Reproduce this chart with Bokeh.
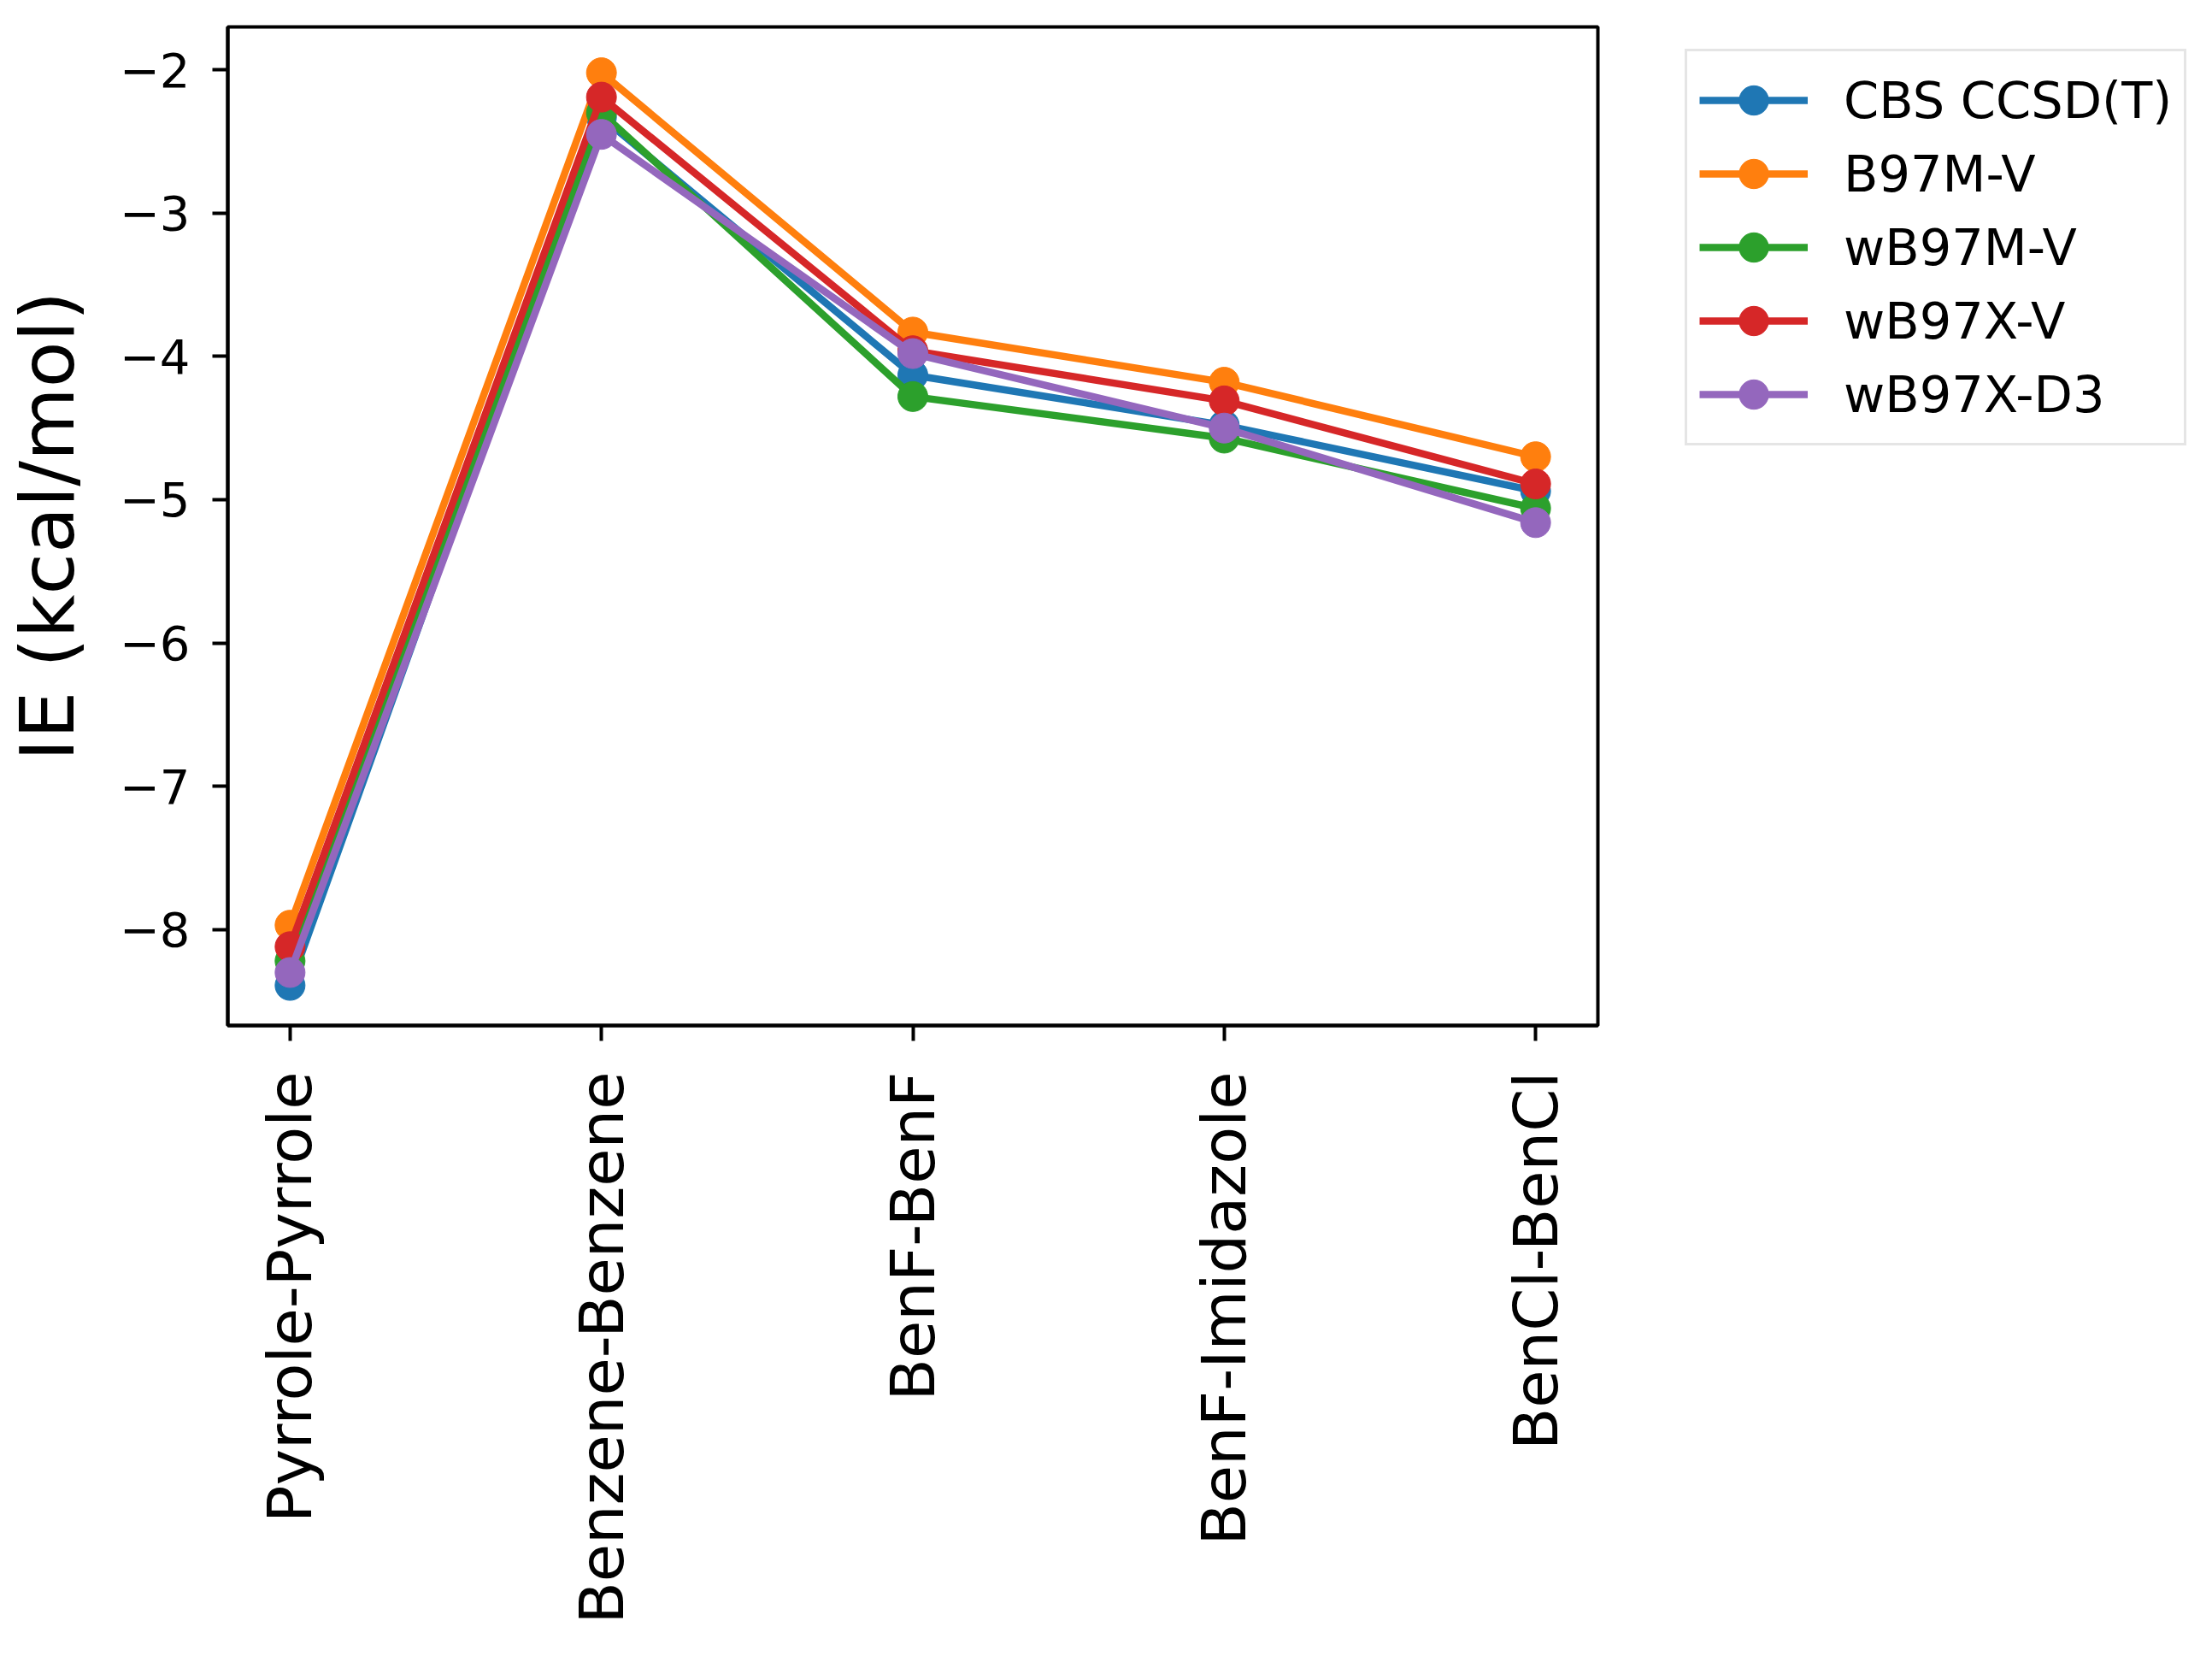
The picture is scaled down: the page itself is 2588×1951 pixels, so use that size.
import math
from bokeh.plotting import figure
from bokeh.models import Range1d, FixedTicker, Legend, LegendItem
from bokeh.embed import file_html
from bokeh.resources import INLINE

categories = ["Pyrrole-Pyrrole", "Benzene-Benzene", "BenF-BenF", "BenF-Imidazole", "BenCl-BenCl"]
series_names = ["CBS CCSD(T)", "B97M-V", "wB97M-V", "wB97X-V", "wB97X-D3"]
cbs_ccsdt = [-8.39, -2.33, -4.13, -4.48, -4.94]
b97m_v = [-7.97, -2.02, -3.83, -4.18, -4.70]
wb97m_v = [-8.22, -2.30, -4.28, -4.57, -5.06]
wb97x_v = [-8.12, -2.19, -3.96, -4.31, -4.89]
wb97x_d3 = [-8.30, -2.45, -3.98, -4.50, -5.16]
y_ticks = [-8, -7, -6, -5, -4, -3, -2]
y_label = "IE (kcal/mol)"

colors = ["#1f77b4", "#ff7f0e", "#2ca02c", "#d62728", "#9467bd"]
all_series = [cbs_ccsdt, b97m_v, wb97m_v, wb97x_v, wb97x_d3]
xs = list(range(len(categories)))

FONT = "DejaVu Sans"

p = figure(
    frame_width=1603, frame_height=1168,
    min_border_left=254, min_border_top=31, min_border_right=713, min_border_bottom=736,
    x_range=Range1d(-0.2, 4.2), y_range=Range1d(-8.67, -1.70),
    output_backend="svg", toolbar_location=None,
)
p.grid.visible = False
p.outline_line_color = "black"
p.outline_line_width = 4
p.background_fill_color = "white"
p.border_fill_color = "white"

for ax in (p.xaxis[0], p.yaxis[0]):
    ax.axis_line_color = "black"
    ax.axis_line_width = 4
    ax.major_tick_line_color = "black"
    ax.major_tick_line_width = 4
    ax.major_tick_out = 18
    ax.major_tick_in = 0
    ax.minor_tick_line_color = None
    ax.major_label_text_font = FONT
    ax.major_label_text_color = "black"

p.xaxis.ticker = FixedTicker(ticks=xs)
p.xaxis.major_label_overrides = {i: c for i, c in enumerate(categories)}
p.xaxis.major_label_orientation = math.pi / 2
p.xaxis.major_label_text_font_size = "72px"
p.xaxis.major_label_standoff = 36

p.yaxis.ticker = FixedTicker(ticks=y_ticks)
p.yaxis.major_label_overrides = {t: ("\u2212" + str(abs(t)) if t < 0 else str(t)) for t in y_ticks}
p.yaxis.major_label_text_font_size = "56px"
p.yaxis.major_label_standoff = 26
p.yaxis.axis_label = y_label
p.yaxis.axis_label_text_font = FONT
p.yaxis.axis_label_text_font_size = "88px"
p.yaxis.axis_label_text_font_style = "normal"
p.yaxis.axis_label_text_color = "black"
p.yaxis.axis_label_standoff = 30

items = []
for name, vals, col in zip(series_names, all_series, colors):
    r1 = p.line(xs, vals, line_color=col, line_width=8.5)
    r2 = p.scatter(xs, vals, marker="circle", size=35, fill_color=col, line_color=col, line_width=1)
    items.append(LegendItem(label=name, renderers=[r1, r2]))

legend = Legend(items=items)
legend.label_text_font = FONT
legend.label_text_font_size = "59px"
legend.label_text_color = "black"
legend.glyph_width = 127
legend.glyph_height = 86
legend.label_height = 60
legend.label_standoff = 42
legend.spacing = 0
legend.padding = 14
legend.margin = 0
legend.border_line_color = "#cccccc"
legend.border_line_width = 3
legend.background_fill_alpha = 1.0
legend.location = (102, 678)
p.add_layout(legend, "right")

open("out.html", "w").write(file_html(p, INLINE))
